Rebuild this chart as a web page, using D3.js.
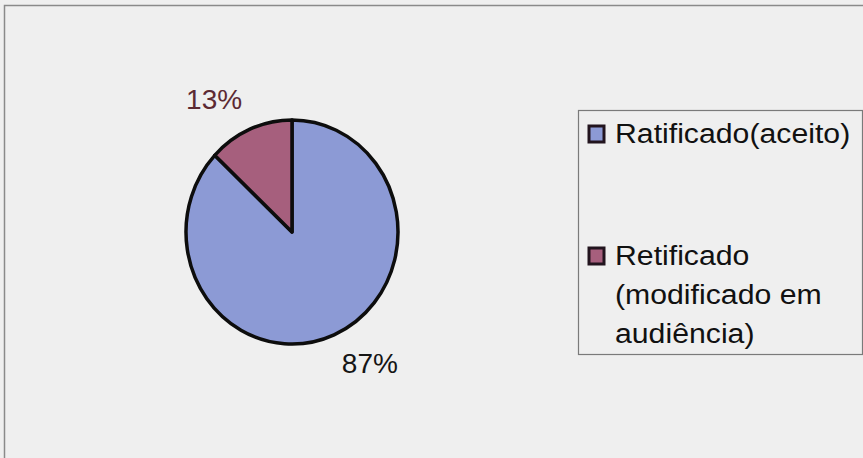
<!DOCTYPE html>
<html>
<head>
<meta charset="utf-8">
<script src="https://cdn.jsdelivr.net/npm/d3@7"></script>
<style>
  html, body { margin: 0; padding: 0; background: #efefef; }
  svg { display: block; }
  text { font-family: "Liberation Sans", Arial, Helvetica, sans-serif; }
</style>
</head>
<body>
<svg id="chart" width="863" height="458"></svg>
<script>
// Share of hearing outcomes
const categories = ["Ratificado(aceito)", "Retificado (modificado em audiência)"];
const legendLines = [["Ratificado(aceito)"], ["Retificado", "(modificado em", "audiência)"]];
const values = [87, 13];
const percentLabels = ["87%", "13%"];
const fillColors = ["#8c9ad5", "#a65f7d"];
const labelColors = ["#151515", "#5c2a33"];

const W = 863, H = 458;
const svg = d3.select("#chart");

// outer frame
svg.append("rect")
  .attr("x", 4.5).attr("y", 5.5)
  .attr("width", W + 10).attr("height", H + 10)
  .attr("fill", "#efefef")
  .attr("stroke", "#8a8a8a")
  .attr("stroke-width", 1.5);

// pie (slightly taller than wide)
const cx = 292, cy = 232, r = 106, yScale = 112 / 106;
const pie = d3.pie().sort(null).value(d => d)(values);
const arc = d3.arc().innerRadius(0).outerRadius(r);

const pieG = svg.append("g")
  .attr("transform", `translate(${cx},${cy}) scale(1,${yScale})`);

pieG.selectAll("path")
  .data(pie)
  .join("path")
  .attr("d", arc)
  .attr("fill", (d, i) => fillColors[i])
  .attr("stroke", "#0d0d0d")
  .attr("stroke-width", 3.5)
  .attr("stroke-linejoin", "round")
  .attr("vector-effect", "non-scaling-stroke");

// percentage labels placed just outside each slice
const labelR = 118;
pie.forEach((d, i) => {
  const a = (d.startAngle + d.endAngle) / 2;
  const px = cx + Math.sin(a) * labelR;
  const py = cy - Math.cos(a) * labelR * yScale;
  const right = Math.sin(a) >= 0;
  const below = Math.cos(a) < 0;
  svg.append("text")
    .attr("x", px + (right ? 3 : -3))
    .attr("y", below ? py + 27 : py - 9)
    .attr("text-anchor", right ? "start" : "end")
    .attr("font-size", 28)
    .attr("fill", labelColors[i])
    .text(percentLabels[i]);
});

// legend
const lg = svg.append("g");
lg.append("rect")
  .attr("x", 578.5).attr("y", 110.5)
  .attr("width", 284).attr("height", 244)
  .attr("fill", "none")
  .attr("stroke", "#7a7a7a")
  .attr("stroke-width", 1.2);

const entryY = [143, 265];
const lineH = 39;
categories.forEach((c, i) => {
  lg.append("rect")
    .attr("x", 589).attr("y", entryY[i] - 17)
    .attr("width", 15).attr("height", 16)
    .attr("fill", fillColors[i])
    .attr("stroke", "#22141e")
    .attr("stroke-width", 3);
  legendLines[i].forEach((line, j) => {
    lg.append("text")
      .attr("transform", `translate(615,${entryY[i] + j * lineH}) scale(1.12,1)`)
      .attr("font-size", 27)
      .attr("fill", "#111")
      .text(line);
  });
});
</script>
</body>
</html>
